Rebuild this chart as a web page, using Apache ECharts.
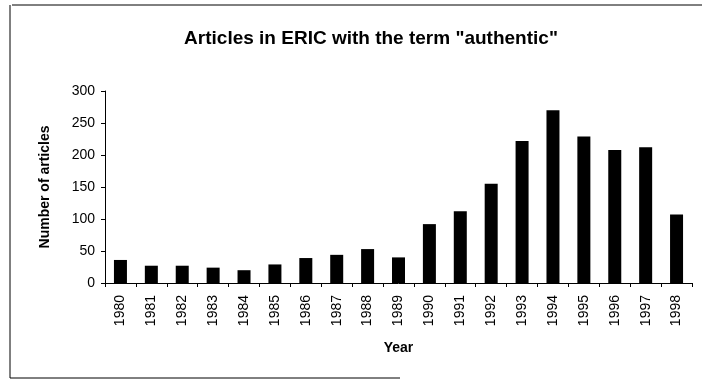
<!DOCTYPE html>
<html>
<head>
<meta charset="utf-8">
<script src="https://cdn.jsdelivr.net/npm/echarts@6/dist/echarts.min.js"></script>
<style>html,body{margin:0;padding:0;background:#fff}#c{width:702px;height:386px}</style>
</head>
<body>
<div id="c"></div>
<script>
const years = ['1980','1981','1982','1983','1984','1985','1986','1987','1988','1989','1990','1991','1992','1993','1994','1995','1996','1997','1998'];
const articles = [36, 27, 27, 24, 20, 29, 39, 44, 53, 40, 92, 112, 155, 222, 270, 229, 208, 212, 107];
const yTicks = [0, 50, 100, 150, 200, 250, 300];

const chart = echarts.init(document.getElementById('c'));
const font = 'Liberation Sans, Arial, sans-serif';
chart.setOption({
  backgroundColor: '#fff',
  animation: false,
  title: {
    text: 'Articles in ERIC with the term "authentic"',
    left: 366, top: 24, textAlign: 'center',
    textStyle: { fontFamily: font, fontSize: 19, fontWeight: 'bold', color: '#000' }
  },
  grid: { left: 105, right: 10, top: 91, bottom: 103 },
  xAxis: {
    type: 'category', data: years,
    name: 'Year', nameLocation: 'middle', nameGap: 58,
    nameTextStyle: { fontFamily: font, fontSize: 14, fontWeight: 'bold', color: '#000' },
    axisLine: { lineStyle: { color: '#000', width: 1 } },
    axisTick: { show: true, alignWithLabel: false, length: 4, lineStyle: { color: '#000' } },
    axisLabel: { rotate: 90, margin: 12, fontFamily: font, fontSize: 14, color: '#000' }
  },
  yAxis: {
    type: 'value', min: yTicks[0], max: yTicks[yTicks.length - 1], interval: 50,
    name: 'Number of articles', nameLocation: 'middle', nameGap: 53, nameRotate: 90,
    nameTextStyle: { fontFamily: font, fontSize: 14, fontWeight: 'bold', color: '#000' },
    axisLine: { show: true, lineStyle: { color: '#000', width: 1 } },
    axisTick: { show: true, length: 4, lineStyle: { color: '#000' } },
    axisLabel: { margin: 10, fontFamily: font, fontSize: 14, color: '#000' },
    splitLine: { show: false }
  },
  series: [{
    type: 'bar', data: articles, barWidth: 13,
    itemStyle: { color: '#000' }
  }],
  graphic: [
    { type: 'line', shape: { x1: 12, y1: 5, x2: 702, y2: 5 }, style: { stroke: '#000', lineWidth: 1 } },
    { type: 'line', shape: { x1: 10, y1: 5, x2: 10, y2: 378 }, style: { stroke: '#000', lineWidth: 1 } },
    { type: 'line', shape: { x1: 10, y1: 378, x2: 400, y2: 378 }, style: { stroke: '#000', lineWidth: 1 } }
  ]
});
</script>
</body>
</html>
